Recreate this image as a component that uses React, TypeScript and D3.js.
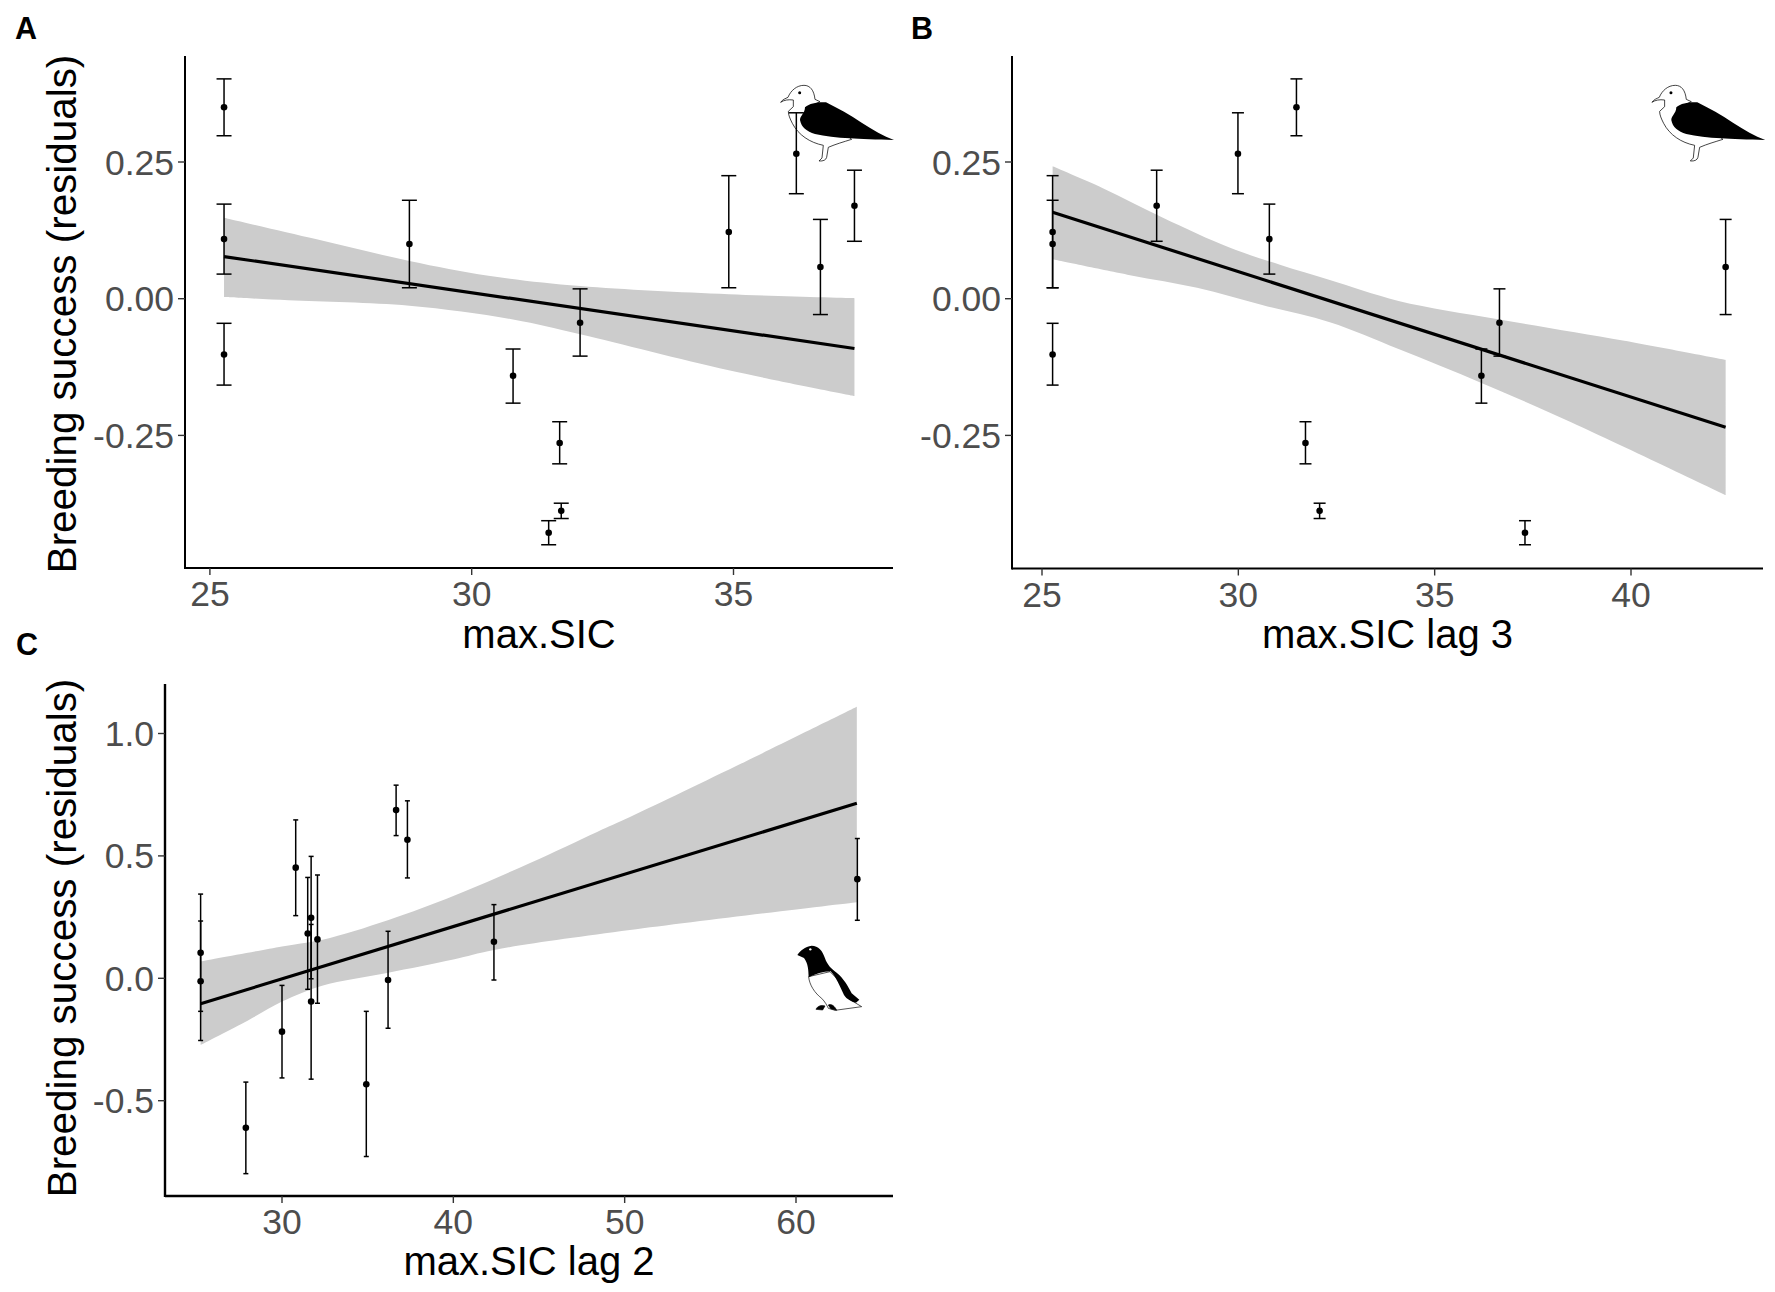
import React from "react";
import * as d3 from "d3";

// ---- shared response (panels A and B)
const gullY = [0.35, 0.109, -0.102, 0.1, -0.141, -0.264, -0.388, -0.428, -0.044, 0.122, 0.265, 0.058, 0.17];
const gullHi = [0.402, 0.173, -0.045, 0.18, -0.092, -0.225, -0.374, -0.406, 0.018, 0.225, 0.34, 0.145, 0.235];
const gullLo = [0.298, 0.045, -0.158, 0.02, -0.191, -0.302, -0.402, -0.45, -0.105, 0.02, 0.192, -0.029, 0.105];

// ---- panel A
const aX = [25.27, 25.27, 25.27, 28.81, 30.79, 31.68, 31.71, 31.47, 32.07, 34.91, 36.2, 36.66, 37.31];
const aLineX = [25.27, 37.31];
const aLineY = [0.077, -0.091];
const aBandUpX = [25.27, 27.02, 28.81, 30.32, 32.07, 34.91, 37.31];
const aBandUpY = [0.148, 0.109, 0.069, 0.042, 0.023, 0.008, 0.001];
const aBandLoX = [25.27, 26.5, 28.81, 30.79, 32.07, 34.91, 37.31];
const aBandLoY = [0.003, -0.003, -0.013, -0.038, -0.065, -0.131, -0.178];
const aTicksX = [25, 30, 35];
const abTicksY = [0.25, 0, -0.25];

// ---- panel B
const bX = [31.48, 30.79, 25.27, 25.27, 36.19, 31.71, 32.07, 37.3, 36.65, 25.27, 29.99, 42.41, 27.92];
const bLineX = [25.27, 42.41];
const bLineY = [0.158, -0.235];
const bBandUpX = [25.27, 26.55, 28.08, 29.79, 31.06, 32.33, 34.08, 36.65, 39.83, 42.41];
const bBandUpY = [0.242, 0.202, 0.148, 0.093, 0.062, 0.034, -0.004, -0.038, -0.077, -0.112];
const bBandLoX = [25.27, 27.24, 28.95, 30.63, 32.33, 34.08, 36.19, 38.39, 42.41];
const bBandLoY = [0.072, 0.043, 0.02, -0.012, -0.043, -0.092, -0.154, -0.223, -0.359];
const bTicksX = [25, 30, 35, 40];

// ---- panel C
const cX = [25.25, 25.25, 27.89, 30, 30.8, 31.5, 31.7, 31.7, 32.07, 34.92, 36.19, 36.66, 37.32, 42.37, 63.58];
const cY = [0.104, -0.012, -0.611, -0.218, 0.452, 0.183, 0.247, -0.095, 0.159, -0.433, -0.007, 0.687, 0.566, 0.149, 0.405];
const cHi = [0.344, 0.234, -0.424, -0.029, 0.647, 0.412, 0.498, 0.22, 0.422, -0.135, 0.192, 0.789, 0.725, 0.301, 0.571];
const cLo = [-0.135, -0.254, -0.798, -0.407, 0.256, -0.045, -0.002, -0.412, -0.102, -0.728, -0.204, 0.583, 0.41, -0.007, 0.237];
const cLineX = [25.25, 63.55];
const cLineY = [-0.104, 0.715];
const cBandUpX = [25.25, 30, 32.8, 36.71, 40.57, 44.48, 48.39, 50.31, 57.03, 63.55];
const cBandUpY = [0.069, 0.13, 0.165, 0.25, 0.353, 0.471, 0.598, 0.659, 0.885, 1.109];
const cBandLoX = [25.25, 27.99, 30, 32.34, 36.13, 40, 42.38, 50.31, 63.55];
const cBandLoY = [-0.272, -0.173, -0.095, -0.03, 0.022, 0.077, 0.116, 0.197, 0.311];
const cTicksX = [30, 40, 50, 60];
const cTicksY = [1, 0.5, 0, -0.5];

const FONT = "'Liberation Sans', Arial, sans-serif";
const TICK_COLOR = "#4d4d4d";

type PanelProps = {
  letter: string; letterX: number; letterY: number;
  left: number; right: number; top: number; bottom: number;
  x: d3.ScaleLinear<number, number>; y: d3.ScaleLinear<number, number>;
  xs: number[]; ys: number[]; hi: number[]; lo: number[];
  lineX: number[]; lineY: number[];
  upX: number[]; upY: number[]; loX: number[]; loY: number[];
  ticksX: number[]; ticksY: number[]; yFmt: string;
  xTitle: string; titleY: number; yTitleMid: number | null; capW: number; axisW: number;
};

function Panel(p: PanelProps) {
  const { x, y } = p;
  const edge = d3.line().curve(d3.curveCatmullRom);
  const upper = edge(p.upX.map((v, i) => [x(v), y(p.upY[i])] as [number, number]))!;
  const lowerPts = p.loX.map((v, i) => [x(v), y(p.loY[i])] as [number, number]);
  const lower = edge(lowerPts.slice().reverse())!;
  const band = upper + "L" + lower.slice(1) + "Z";
  const trend = d3.line()(p.lineX.map((v, i) => [x(v), y(p.lineY[i])] as [number, number]))!;
  const fmt = d3.format(p.yFmt);
  const midX = (p.left + p.right) / 2;
  return (
    <g fontFamily={FONT}>
      <text x={p.letterX} y={p.letterY} fontSize={30.5} fontWeight="bold" fill="#000">{p.letter}</text>
      <path d={band} fill="#cccccc" />
      <path d={trend} fill="none" stroke="#000" strokeWidth={3.2} />
      {p.xs.map((v, i) => (
        <g key={i} stroke="#000" strokeWidth={1.5}>
          <line x1={x(v)} x2={x(v)} y1={y(p.hi[i])} y2={y(p.lo[i])} />
          <line x1={x(v) - p.capW / 2} x2={x(v) + p.capW / 2} y1={y(p.hi[i])} y2={y(p.hi[i])} />
          <line x1={x(v) - p.capW / 2} x2={x(v) + p.capW / 2} y1={y(p.lo[i])} y2={y(p.lo[i])} />
          <circle cx={x(v)} cy={y(p.ys[i])} r={3.3} fill="#000" stroke="none" />
        </g>
      ))}
      <line x1={p.left} x2={p.left} y1={p.top} y2={p.bottom + 1} stroke="#000" strokeWidth={p.axisW} />
      <line x1={p.left} x2={p.right} y1={p.bottom} y2={p.bottom} stroke="#000" strokeWidth={p.axisW} />
      {p.ticksX.map((t) => (
        <g key={t}>
          <line x1={x(t)} x2={x(t)} y1={p.bottom} y2={p.bottom + 7} stroke="#333" strokeWidth={1.4} />
          <text x={x(t)} y={p.bottom + 38} fontSize={35.5} textAnchor="middle" fill={TICK_COLOR}>{t}</text>
        </g>
      ))}
      {p.ticksY.map((t) => (
        <g key={t}>
          <line x1={p.left - 7} x2={p.left} y1={y(t)} y2={y(t)} stroke="#333" strokeWidth={1.4} />
          <text x={p.left - 11} y={y(t) + 12.5} fontSize={35.5} textAnchor="end" fill={TICK_COLOR}>{fmt(t).replace("\u2212", "-")}</text>
        </g>
      ))}
      <text x={midX} y={p.titleY} fontSize={40} textAnchor="middle" fill="#000">{p.xTitle}</text>
      {p.yTitleMid !== null && (
        <text transform={`translate(76,${p.yTitleMid}) rotate(-90)`} fontSize={40.4} textAnchor="middle" fill="#000">
          Breeding success (residuals)
        </text>
      )}
    </g>
  );
}

function Gull({ dx, dy }: { dx: number; dy: number }) {
  return (
    <g transform={`translate(${dx},${dy}) scale(0.3333)`}>
      <path d="M62 97C68 88 76 86 84 82C92 62 110 46 132 46C150 46 162 60 165 88L180 95L150 110L275 208C250 216 228 222 205 232L200 262C198 270 190 274 177 273L186 264L190 226C150 218 115 195 97 160C90 146 85 135 85 124L100 110L100 90C85 88 72 90 62 97Z" fill="#fff" stroke="#000" strokeWidth={2.2} />
      <path d="M135 112C150 100 170 96 198 97C235 115 270 135 305 158C340 180 370 198 402 210C350 210 300 206 270 205C230 204 195 198 165 192C140 184 124 172 120 150C120 138 135 130 135 112Z" fill="#000" />
      <circle cx={119} cy={68} r={4.5} fill="#000" />
    </g>
  );
}

function Puffin({ dx, dy }: { dx: number; dy: number }) {
  return (
    <g transform={`translate(${dx},${dy}) scale(0.3333)`}>
      <path d="M86 140C88 165 105 190 125 205C135 215 142 228 145 235L165 241L245 230L215 212L175 150L150 125Z" fill="#fff" stroke="#000" strokeWidth={2} />
      <path d="M52 75C60 62 75 50 95 47C115 47 128 62 135 85C142 105 155 118 170 128C192 146 205 170 215 190L238 209L228 218C215 215 200 208 192 195C180 170 168 140 152 124C130 125 105 132 86 142C85 120 85 102 72 84Z" fill="#000" />
      <path d="M108 238C112 228 125 224 135 228L128 240ZM145 225C155 220 165 230 170 241L152 236Z" fill="#000" stroke="#000" strokeWidth={2} />
      <circle cx={91} cy={58} r={3.5} fill="#fff" />
    </g>
  );
}

export default function App() {
  const yAB = d3.scaleLinear().domain([0, 0.25]).range([298.7, 162]);
  const xA = d3.scaleLinear().domain([25, 30]).range([209.9, 471.7]);
  const xB = d3.scaleLinear().domain([25, 40]).range([1042, 1631]);
  const xC = d3.scaleLinear().domain([30, 60]).range([282, 796]);
  const yC = d3.scaleLinear().domain([0, 1]).range([978.3, 733.5]);
  return (
    <svg width={1775} height={1292} viewBox="0 0 1775 1292" style={{ position: "absolute", left: 0, top: 0, background: "#fff" }}>
      <Gull dx={760} dy={70} />
      <Gull dx={1631.3} dy={70} />
      <Puffin dx={780} dy={930} />
      <Panel letter="A" letterX={15} letterY={39} left={185} right={893} top={56} bottom={568}
        x={xA} y={yAB} xs={aX} ys={gullY} hi={gullHi} lo={gullLo}
        lineX={aLineX} lineY={aLineY} upX={aBandUpX} upY={aBandUpY} loX={aBandLoX} loY={aBandLoY}
        ticksX={aTicksX} ticksY={abTicksY} yFmt=".2f" xTitle="max.SIC" titleY={648} yTitleMid={314} capW={15} axisW={2} />
      <Panel letter="B" letterX={911} letterY={39} left={1012} right={1763} top={56} bottom={568.5}
        x={xB} y={yAB} xs={bX} ys={gullY} hi={gullHi} lo={gullLo}
        lineX={bLineX} lineY={bLineY} upX={bBandUpX} upY={bBandUpY} loX={bBandLoX} loY={bBandLoY}
        ticksX={bTicksX} ticksY={abTicksY} yFmt=".2f" xTitle="max.SIC lag 3" titleY={648} yTitleMid={null} capW={12} axisW={2} />
      <Panel letter="C" letterX={16} letterY={655} left={165} right={893} top={684} bottom={1196}
        x={xC} y={yC} xs={cX} ys={cY} hi={cHi} lo={cLo}
        lineX={cLineX} lineY={cLineY} upX={cBandUpX} upY={cBandUpY} loX={cBandLoX} loY={cBandLoY}
        ticksX={cTicksX} ticksY={cTicksY} yFmt=".1f" xTitle="max.SIC lag 2" titleY={1275} yTitleMid={938} capW={5} axisW={2.4} />
    </svg>
  );
}
